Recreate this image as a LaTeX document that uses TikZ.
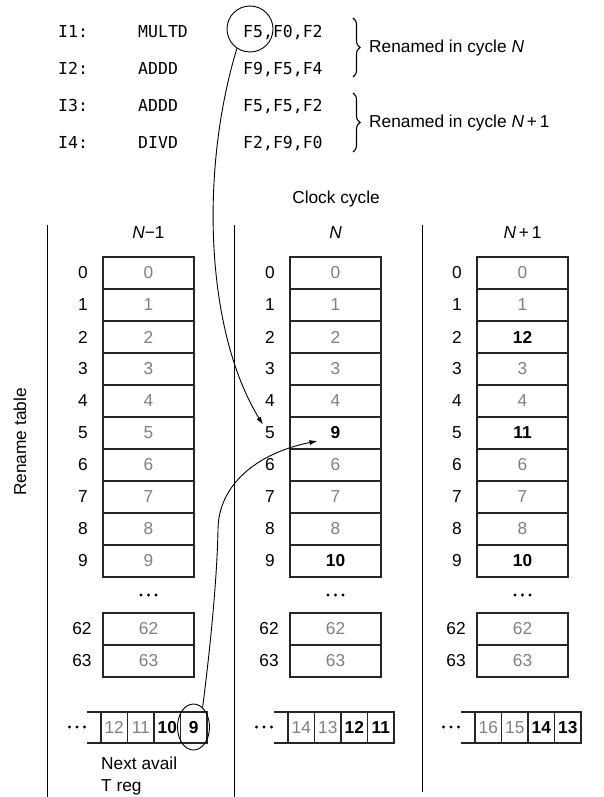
\documentclass[tikz,border=0pt]{standalone}
\usepackage{fontspec}
\setmainfont{Liberation Sans}
\newfontfamily\monof{DejaVu Sans Mono}
\usetikzlibrary{arrows.meta,decorations.pathreplacing,shapes.geometric,calc}
\definecolor{valgray}{gray}{0.5}
\definecolor{boxline}{gray}{0.15}
\newcommand\labfont{\fontsize{17.3}{20}\selectfont}
\newcommand\insfont{\monof\fontsize{16.5}{19}\selectfont}
\newcommand\gv[1]{\textcolor{valgray}{#1}}
\newcommand\bv[1]{\textbf{#1}}
\begin{document}
\begin{tikzpicture}[x=1pt,y=-1pt,
  cell/.style={draw=boxline, line width=1.1pt, minimum width=91pt, minimum height=32pt, inner sep=0pt, font=\labfont},
  qcell/.style={draw=boxline, line width=1.1pt, minimum width=26.5pt, minimum height=31pt, inner sep=0pt, font=\labfont},
  idx/.style={font=\labfont, inner sep=2pt},
  lbl/.style={font=\labfont, inner sep=0pt},
  sepline/.style={line width=0.9pt},
  conn/.style={line width=0.9pt, -{Latex[length=8pt,width=5pt]}},
  insn/.style={font=\insfont, anchor=base west, inner sep=0pt},
  bracestyle/.style={line width=1.1pt, decorate, decoration={brace, amplitude=7pt}},
  dotstyle/.style={circle, fill=black, inner sep=0pt, minimum size=3.2pt},
]
\useasboundingbox (0,0) rectangle (603,797);

% instructions
\node[insn] (i1l) at (58,38) {I1:};
\node[insn] (i1o) at (138,38) {MULTD};
\node[insn] (i1a) at (243,38) {F5,F0,F2};
\node[insn] (i2l) at (58,75) {I2:};
\node[insn] (i2o) at (138,75) {ADDD};
\node[insn] (i2a) at (243,75) {F9,F5,F4};
\node[insn] (i3l) at (58,112) {I3:};
\node[insn] (i3o) at (138,112) {ADDD};
\node[insn] (i3a) at (243,112) {F5,F5,F2};
\node[insn] (i4l) at (58,148) {I4:};
\node[insn] (i4o) at (138,148) {DIVD};
\node[insn] (i4a) at (243,148) {F2,F9,F0};
\node[circle, draw, line width=0.9pt, minimum size=46pt, inner sep=0pt] (c5) at (250,29) {};

% braces
\draw[bracestyle] (353,18) -- (353,77);
\draw[bracestyle] (353,93) -- (353,152);
\node[lbl, anchor=west] (rn1) at (369,48) {Renamed in cycle \textit{N}};
\node[lbl, anchor=west] (rn2) at (369,123) {Renamed in cycle \textit{N}\,+\,1};

% headers
\node[lbl] (clk) at (336,199) {Clock cycle};
\node[lbl] (h0) at (148.5,233) {\textit{N}−1};
\node[lbl] (h1) at (335.5,233) {\textit{N}};
\node[lbl] (h2) at (522.5,233) {\textit{N}\,+\,1};
\node[lbl, rotate=90] (rt) at (20,442) {Rename table};

% separator lines
\draw[sepline] (47,225) -- (47,797);
\draw[sepline] (234,225) -- (234,797);
\draw[sepline] (422,225) -- (422,792);

% tables
\foreach \c/\L/\vals in {
  0/103/{0/\gv{0},1/\gv{1},2/\gv{2},3/\gv{3},4/\gv{4},5/\gv{5},6/\gv{6},7/\gv{7},8/\gv{8},9/\gv{9}},
  1/290/{0/\gv{0},1/\gv{1},2/\gv{2},3/\gv{3},4/\gv{4},5/\bv{9},6/\gv{6},7/\gv{7},8/\gv{8},9/\bv{10}},
  2/477/{0/\gv{0},1/\gv{1},2/\bv{12},3/\gv{3},4/\gv{4},5/\bv{11},6/\gv{6},7/\gv{7},8/\gv{8},9/\bv{10}}} {
  \foreach \r/\v in \vals {
    \node[idx] (i\c-\r) at (\L-20, 273+32*\r) {\r};
    \node[cell] (v\c-\r) at (\L+45.5, 273+32*\r) {\v};
  }
  \foreach \d in {-7.5,0,7.5} {
    \node[dotstyle] at (\L+45.5+\d, 595) {};
    \node[dotstyle] at (\L-26+\d, 727) {};
  }
  \node[idx] (i\c-62) at (\L-21, 629) {62};
  \node[cell] (v\c-62) at (\L+45.5, 629) {\gv{62}};
  \node[idx] (i\c-63) at (\L-21, 661) {63};
  \node[cell] (v\c-63) at (\L+45.5, 661) {\gv{63}};
  \draw[line width=1.1pt, boxline] (\L-16, 712) -- (\L-2, 712);
  \draw[line width=1.1pt, boxline] (\L-16, 743) -- (\L-2, 743);
}
% queues
\foreach \c/\L/\qs in {
  0/103/{0/\gv{12},1/\gv{11},2/\bv{10},3/\bv{9}},
  1/290/{0/\gv{14},1/\gv{13},2/\bv{12},3/\bv{11}},
  2/477/{0/\gv{16},1/\gv{15},2/\bv{14},3/\bv{13}}} {
  \foreach \k/\q in \qs {
    \node[qcell] (q\c-\k) at (\L-2+13.25+26.5*\k, 727.5) {\q};
  }
}
\node[ellipse, draw, line width=0.9pt, minimum width=32pt, minimum height=46pt, inner sep=0pt] (e9) at (193.5,727) {};
\node[lbl, anchor=base west] (na) at (101,769) {Next avail};
\node[lbl, anchor=base west] (tr) at (101,791) {T reg};

% connectors
\coordinate (t2) at ($(v1-5.center)+(-18,8)$);
\draw[conn] (c5.236) .. controls (200,170) and (205,330) .. (i1-5.north west);
\draw[conn] (e9.65) .. controls (210,650) and (217,580) .. (218,530)
  .. controls (218,485) and (257,453) .. (t2);
\end{tikzpicture}
\end{document}
